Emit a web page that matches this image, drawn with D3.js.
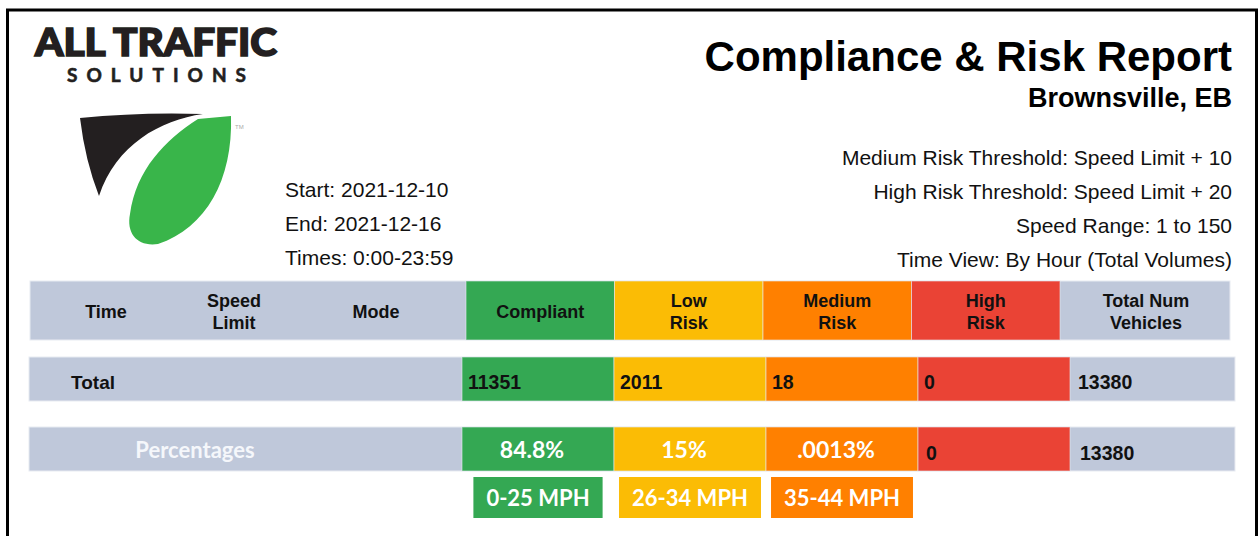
<!DOCTYPE html>
<html>
<head>
<meta charset="utf-8">
<script src="https://cdn.jsdelivr.net/npm/d3@7"></script>
<style>
body { margin: 0; background: #fff; }
svg { display: block; }
.arial { font-family: "Liberation Sans", Arial, sans-serif; }
.calib { font-family: Lato, "Open Sans", sans-serif; font-weight: 700; }
.val { font-family: "Liberation Sans Narrow", "Arial Narrow", "Liberation Sans", sans-serif; font-weight: bold; font-size: 19.5px; fill: #111; }
</style>
</head>
<body>
<script>
var w = 1259,
    h = 536;

// data
var categories = ["Compliant", "Low Risk", "Medium Risk", "High Risk"];
var totals = [11351, 2011, 18, 0];
var totalVehicles = 13380;
var percentLabels = ["84.8%", "15%", ".0013%"];
var highRiskPercent = "0";
var speedBands = ["0-25 MPH", "26-34 MPH", "35-44 MPH"];
var leftHeaders = ["Time", "Speed Limit", "Mode"];
var totalHeader = "Total Num Vehicles";
var dateLines = ["Start: 2021-12-10", "End: 2021-12-16", "Times: 0:00-23:59"];
var infoLines = ["Medium Risk Threshold: Speed Limit + 10",
                 "High Risk Threshold: Speed Limit + 20",
                 "Speed Range: 1 to 150",
                 "Time View: By Hour (Total Volumes)"];

var gray = "#bfc8da";
var color = d3.scaleOrdinal()
    .domain(categories)
    .range(["#34a853", "#fbbc05", "#ff8000", "#ea4335"]);

var svg = d3.select("body").append("svg")
    .attr("width", w)
    .attr("height", h);

svg.append("rect")
    .attr("x", 7.5)
    .attr("y", 10)
    .attr("width", 1249)
    .attr("height", 560)
    .attr("fill", "#fff")
    .attr("stroke", "#000")
    .attr("stroke-width", 3);

// logo
svg.append("text")
    .attr("x", 35)
    .attr("y", 56)
    .attr("textLength", 242)
    .attr("lengthAdjust", "spacingAndGlyphs")
    .style("font", "900 38px Lato, 'Open Sans', sans-serif")
    .style("fill", "#231f20")
    .style("stroke", "#231f20")
    .style("stroke-width", 1.6)
    .text("ALL TRAFFIC");

svg.append("text")
    .attr("x", 67)
    .attr("y", 82)
    .attr("textLength", 179)
    .attr("lengthAdjust", "spacing")
    .style("font", "700 19px Lato, 'Open Sans', sans-serif")
    .style("fill", "#231f20")
    .style("stroke", "#231f20")
    .style("stroke-width", 0.6)
    .text("SOLUTIONS");

svg.append("path")
    .attr("d", "M80,118 Q140,112 203,114 C160,120 116,145 99,196 Q85,160 80,118 Z")
    .attr("fill", "#231f20");

svg.append("path")
    .attr("d", "M198,119 L231,116 C233,180 206,228 158,244 C138,247 126,234 130,214 C136,170 165,140 198,119 Z")
    .attr("fill", "#39b54a");

svg.append("text")
    .attr("x", 235)
    .attr("y", 129)
    .style("font", "6px 'Liberation Sans', Arial, sans-serif")
    .style("fill", "#aaa")
    .text("TM");

// titles
svg.append("text")
    .attr("class", "arial")
    .attr("x", 1232)
    .attr("y", 71)
    .style("text-anchor", "end")
    .style("font-size", "42px")
    .style("font-weight", "bold")
    .text("Compliance & Risk Report");

svg.append("text")
    .attr("class", "arial")
    .attr("x", 1232)
    .attr("y", 107)
    .style("text-anchor", "end")
    .style("font-size", "27px")
    .style("font-weight", "bold")
    .text("Brownsville, EB");

svg.selectAll(".info")
    .data(infoLines)
    .enter().append("text")
    .attr("class", "info arial")
    .attr("x", 1232)
    .attr("y", function(d, i) { return 165 + i * 34; })
    .style("text-anchor", "end")
    .style("font-size", "21px")
    .style("fill", "#111")
    .text(function(d) { return d; });

svg.selectAll(".date")
    .data(dateLines)
    .enter().append("text")
    .attr("class", "date arial")
    .attr("x", 285)
    .attr("y", function(d, i) { return 197 + i * 34; })
    .style("font-size", "21px")
    .style("fill", "#111")
    .text(function(d) { return d; });

// scales for the table columns
var headX = d3.scaleBand().domain(categories).range([466, 1060]);
var bodyX = d3.scaleBand().domain(categories).range([462, 1070]);
var leftX = d3.scaleOrdinal().domain(leftHeaders).range([106, 234, 376]);

function splitLabel(s) {
    var k = s.lastIndexOf(" ");
    return k < 0 ? [s] : [s.slice(0, k), s.slice(k + 1)];
}

function headerText(g, x, label) {
    var lines = splitLabel(label);
    var t = g.append("text")
        .attr("class", "arial")
        .attr("x", x)
        .style("text-anchor", "middle")
        .style("font-size", "18px")
        .style("font-weight", "bold")
        .style("fill", "#111");
    if (lines.length == 1) {
        t.attr("y", 318).text(lines[0]);
    } else {
        t.append("tspan").attr("x", x).attr("y", 307).text(lines[0]);
        t.append("tspan").attr("x", x).attr("y", 329).text(lines[1]);
    }
}

// header row
var head = svg.append("g");
head.append("rect")
    .attr("x", 30).attr("y", 281)
    .attr("width", 1200).attr("height", 59)
    .attr("fill", gray)
    .attr("stroke", "#e8ebf2");

head.selectAll(".hcell")
    .data(categories)
    .enter().append("rect")
    .attr("class", "hcell")
    .attr("x", function(d) { return headX(d); })
    .attr("y", 281)
    .attr("width", headX.bandwidth())
    .attr("height", 59)
    .attr("fill", function(d) { return color(d); })
    .attr("stroke", "#e8ebf2")
    .attr("stroke-opacity", 0.6);

leftHeaders.forEach(function(d) { headerText(head, leftX(d), d); });
categories.forEach(function(d) { headerText(head, headX(d) + headX.bandwidth() / 2, d); });
headerText(head, 1146, totalHeader);

// body rows
function bodyRow(y, height) {
    var g = svg.append("g");
    g.append("rect")
        .attr("x", 29).attr("y", y)
        .attr("width", 1206).attr("height", height)
        .attr("fill", gray)
        .attr("stroke", "#e8ebf2");
    g.selectAll(".cell")
        .data(categories)
        .enter().append("rect")
        .attr("class", "cell")
        .attr("x", function(d) { return bodyX(d); })
        .attr("y", y)
        .attr("width", bodyX.bandwidth())
        .attr("height", height)
        .attr("fill", function(d) { return color(d); })
        .attr("stroke", "#e8ebf2")
        .attr("stroke-opacity", 0.6);
    return g;
}

var totalRow = bodyRow(357, 44);
totalRow.append("text")
    .attr("x", 71).attr("y", 389)
    .style("font", "bold 19px 'Liberation Sans', Arial, sans-serif")
    .style("fill", "#111")
    .text("Total");

totalRow.selectAll(".val")
    .data(totals)
    .enter().append("text")
    .attr("class", "val")
    .attr("x", function(d, i) { return bodyX(categories[i]) + 6; })
    .attr("y", 389)
    .text(function(d) { return d; });

totalRow.append("text")
    .attr("class", "val")
    .attr("x", 1078).attr("y", 389)
    .text(totalVehicles);

var pctRow = bodyRow(427, 44);
pctRow.append("text")
    .attr("class", "calib")
    .attr("x", 195).attr("y", 458)
    .style("text-anchor", "middle")
    .style("font-size", "22px")
    .style("fill", "#f5f7fb")
    .text("Percentages");

pctRow.selectAll(".pct")
    .data(percentLabels)
    .enter().append("text")
    .attr("class", "pct calib")
    .attr("x", function(d, i) { return bodyX(categories[i]) + bodyX.bandwidth() / 2 - 6; })
    .attr("y", 458)
    .style("text-anchor", "middle")
    .style("font-size", "23px")
    .style("fill", "#fff")
    .text(function(d) { return d; });

pctRow.append("text")
    .attr("class", "val")
    .attr("x", bodyX(categories[3]) + 8).attr("y", 460)
    .text(highRiskPercent);

pctRow.append("text")
    .attr("class", "val")
    .attr("x", 1080).attr("y", 460)
    .text(totalVehicles);

// speed band tags
var tags = svg.selectAll(".tag")
    .data(speedBands)
    .enter().append("g")
    .attr("class", "tag");

tags.append("rect")
    .attr("y", 477)
    .attr("height", 41)
    .attr("fill", function(d, i) { return color(categories[i]); });

tags.append("text")
    .attr("class", "calib")
    .attr("x", function(d, i) { return bodyX(categories[i]) + bodyX.bandwidth() / 2; })
    .attr("y", 506)
    .style("text-anchor", "middle")
    .style("font-size", "22px")
    .style("fill", "#fff")
    .text(function(d) { return d; });

tags.each(function(d, i) {
    var g = d3.select(this);
    var tw = g.select("text").node().getComputedTextLength();
    var cx = bodyX(categories[i]) + bodyX.bandwidth() / 2;
    g.select("rect")
        .attr("x", cx - tw / 2 - 13)
        .attr("width", tw + 26);
});
</script>
</body>
</html>
